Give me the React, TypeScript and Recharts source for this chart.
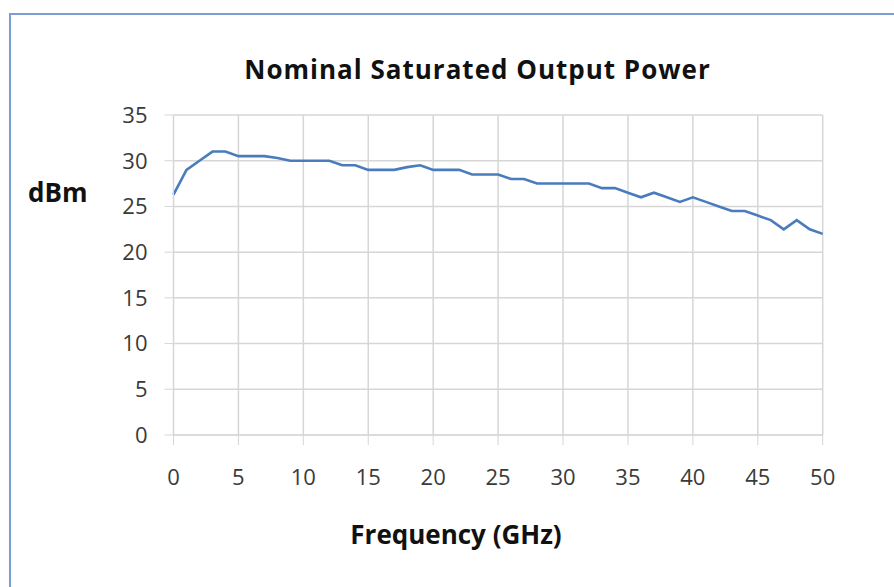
import React from 'react';
import { LineChart, Line, XAxis, YAxis, CartesianGrid } from 'recharts';

// GHz, 1 GHz steps
const frequency = [
  0, 1, 2, 3, 4, 5, 6, 7, 8, 9, 10, 11, 12, 13, 14, 15, 16, 17, 18, 19, 20, 21, 22, 23, 24, 25,
  26, 27, 28, 29, 30, 31, 32, 33, 34, 35, 36, 37, 38, 39, 40, 41, 42, 43, 44, 45, 46, 47, 48, 49, 50,
];
// dBm
const power = [
  26.3, 29, 30, 31, 31, 30.5, 30.5, 30.5, 30.3, 30, 30, 30, 30, 29.5, 29.5, 29, 29, 29, 29.3, 29.5, 29,
  29, 29, 28.5, 28.5, 28.5, 28, 28, 27.5, 27.5, 27.5, 27.5, 27.5, 27, 27, 26.5, 26, 26.5, 26, 25.5, 26,
  25.5, 25, 24.5, 24.5, 24, 23.5, 22.5, 23.5, 22.5, 22,
];
const xTicks = [0, 5, 10, 15, 20, 25, 30, 35, 40, 45, 50];
const yTicks = [0, 5, 10, 15, 20, 25, 30, 35];

const data = frequency.map((f, i) => ({ f, p: power[i] }));

const font = '"Open Sans", sans-serif';
const gridColor = '#d6d6d6';
const tickStyle = { fill: '#3a3a3a', fontSize: 22, fontFamily: font };

export default function App() {
  return (
    <div style={{ position: 'absolute', left: 0, top: 0, width: 894, height: 587, overflow: 'hidden', background: '#fff' }}>
      <div
        style={{
          position: 'absolute', left: 9, top: 13, width: 920, height: 620,
          border: '2px solid #7b9fd3', boxSizing: 'border-box',
        }}
      />
      <div style={{ position: 'absolute', left: 0, top: 0 }}>
        <LineChart width={894} height={587} data={data} margin={{ top: 115, right: 71.3, bottom: 0, left: 0 }}>
          <CartesianGrid stroke={gridColor} strokeWidth={1.5} />
          <XAxis
            dataKey="f"
            type="number"
            domain={[0, 50]}
            ticks={xTicks}
            height={152}
            stroke={gridColor}
            tickSize={10}
            tickMargin={24}
            tick={tickStyle}
            interval={0}
          />
          <YAxis
            type="number"
            domain={[0, 35]}
            ticks={yTicks}
            width={173.5}
            stroke={gridColor}
            tickSize={9}
            tickMargin={17}
            tick={tickStyle}
            interval={0}
          />
          <Line
            dataKey="p"
            type="linear"
            stroke="#4a7cbd"
            strokeWidth={2.6}
            dot={false}
            isAnimationActive={false}
          />
        </LineChart>
      </div>
      <svg width={894} height={587} style={{ position: 'absolute', left: 0, top: 0, pointerEvents: 'none' }}>
        <text x={477.5} y={79} textAnchor="middle" fontFamily={font} fontWeight={700} fontSize={26} letterSpacing={1} fill="#111">
          Nominal Saturated Output Power
        </text>
        <text x={28} y={202} fontFamily={font} fontWeight={700} fontSize={26} fill="#111">
          dBm
        </text>
        <text x={456} y={544} textAnchor="middle" fontFamily={font} fontWeight={700} fontSize={26} fill="#111">
          Frequency (GHz)
        </text>
      </svg>
    </div>
  );
}
